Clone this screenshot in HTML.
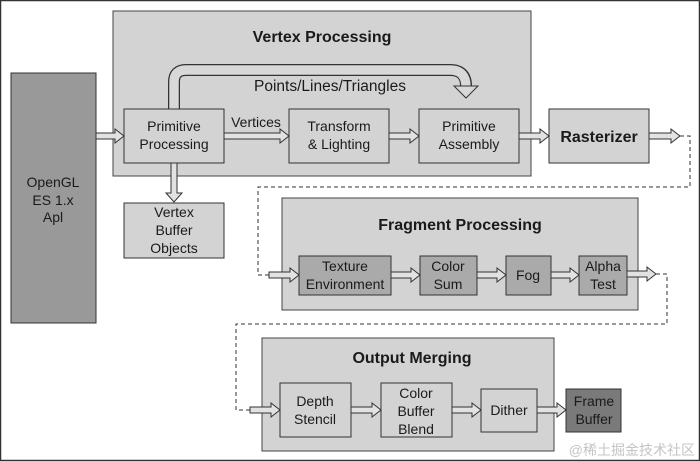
<!DOCTYPE html>
<html><head><meta charset="utf-8"><style>
html,body{margin:0;padding:0;background:#fff}
svg{display:block}
text{font-family:"Liberation Sans",sans-serif;fill:#1a1a1a}
.t{font-size:14px;text-anchor:middle}
.b{font-size:16px;font-weight:bold;text-anchor:middle}
</style></head><body>
<svg width="700" height="462" viewBox="0 0 700 462" xmlns="http://www.w3.org/2000/svg">
<rect x="0.5" y="0.5" width="699" height="460" fill="#fff" stroke="#333" stroke-width="1.5"/>
<!-- Vertex processing -->
<rect x="113" y="11" width="418" height="165" fill="#d3d3d3" stroke="#444"/>
<text class="b" x="322" y="42">Vertex Processing</text>
<!-- curved arrow -->
<path d="M174,109 V82 Q174,70 186,70 H450 Q466,70 466,86" fill="none" stroke="#333" stroke-width="12"/>
<path d="M174,110 V82 Q174,70 186,70 H450 Q466,70 466,87" fill="none" stroke="#d8d8d8" stroke-width="9.5"/>
<polygon points="454,86 478,86 466,98" fill="#d8d8d8" stroke="#333"/>
<text class="t" x="330" y="91" style="font-size:15.5px">Points/Lines/Triangles</text>
<!-- OpenGL -->
<rect x="11" y="73" width="85" height="250" fill="#999" stroke="#333"/>
<text class="t" x="53" y="187">OpenGL</text>
<text class="t" x="53" y="205">ES 1.x</text>
<text class="t" x="53" y="222">Apl</text>
<!-- boxes -->
<rect x="124" y="109" width="100" height="54" fill="#d3d3d3" stroke="#333"/>
<text class="t" x="174" y="131">Primitive</text><text class="t" x="174" y="149">Processing</text>
<rect x="289" y="109" width="100" height="54" fill="#d3d3d3" stroke="#333"/>
<text class="t" x="339" y="131">Transform</text><text class="t" x="339" y="149">&amp; Lighting</text>
<rect x="419" y="109" width="100" height="54" fill="#d3d3d3" stroke="#333"/>
<text class="t" x="469" y="131">Primitive</text><text class="t" x="469" y="149">Assembly</text>
<rect x="549" y="109" width="100" height="54" fill="#d3d3d3" stroke="#333"/>
<text class="b" x="599" y="142">Rasterizer</text>
<text class="t" x="256" y="127">Vertices</text>
<rect x="124" y="203" width="100" height="55" fill="#d3d3d3" stroke="#333"/>
<text class="t" x="174" y="217">Vertex</text><text class="t" x="174" y="235">Buffer</text><text class="t" x="174" y="253">Objects</text>
<!-- arrows -->
<g fill="#e2e2e2" stroke="#333" stroke-width="1">
<polygon points="96,133 115,133 115,129 124,136 115,143 115,139 96,139"/>
<polygon points="224,133 280,133 280,129 289,136 280,143 280,139 224,139"/>
<polygon points="389,133 410,133 410,129 419,136 410,143 410,139 389,139"/>
<polygon points="519,133 540,133 540,129 549,136 540,143 540,139 519,139"/>
<polygon points="649,133 671,133 671,129 680,136 671,143 671,139 649,139"/>
<polygon points="171,163 171,193 166,193 174,202 182,193 177,193 177,163"/>
</g>
<!-- dashed connectors -->
<g fill="none" stroke="#333" stroke-dasharray="4,3">
<path d="M680,136 H690 V187 H258 V275 H269"/>
<path d="M656,274 H667 V324 H236 V410 H250"/>
</g>
<!-- Fragment -->
<rect x="282" y="198" width="356" height="112" fill="#d3d3d3" stroke="#444"/>
<text class="b" x="460" y="230">Fragment Processing</text>
<g fill="#aaa" stroke="#333">
<rect x="299" y="256" width="92" height="39"/>
<rect x="420" y="256" width="57" height="39"/>
<rect x="506" y="256" width="45" height="39"/>
<rect x="579" y="256" width="48" height="39"/>
</g>
<text class="t" x="345" y="271">Texture</text><text class="t" x="345" y="289">Environment</text>
<text class="t" x="448" y="271">Color</text><text class="t" x="448" y="289">Sum</text>
<text class="t" x="528" y="280">Fog</text>
<text class="t" x="603" y="271">Alpha</text><text class="t" x="603" y="289">Test</text>
<g fill="#e2e2e2" stroke="#333">
<polygon points="269,272 290,272 290,268 299,275 290,282 290,278 269,278"/>
<polygon points="391,272 411,272 411,268 420,275 411,282 411,278 391,278"/>
<polygon points="477,272 497,272 497,268 506,275 497,282 497,278 477,278"/>
<polygon points="551,272 570,272 570,268 579,275 570,282 570,278 551,278"/>
<polygon points="627,271 647,271 647,267 656,274 647,281 647,277 627,277"/>
</g>
<!-- Output merging -->
<rect x="262" y="338" width="292" height="113" fill="#d3d3d3" stroke="#444"/>
<text class="b" x="412" y="363">Output Merging</text>
<g fill="#d3d3d3" stroke="#333">
<rect x="280" y="383" width="71" height="54"/>
<rect x="381" y="383" width="71" height="54"/>
<rect x="481" y="389" width="56" height="43"/>
</g>
<rect x="566" y="389" width="55" height="43" fill="#7a7a7a" stroke="#333"/>
<text class="t" x="315" y="406">Depth</text><text class="t" x="315" y="424">Stencil</text>
<text class="t" x="416" y="398">Color</text><text class="t" x="416" y="416">Buffer</text><text class="t" x="416" y="434">Blend</text>
<text class="t" x="509" y="415">Dither</text>
<text class="t" x="594" y="406">Frame</text><text class="t" x="594" y="424">Buffer</text>
<g fill="#e2e2e2" stroke="#333">
<polygon points="250,407 271,407 271,403 280,410 271,417 271,413 250,413"/>
<polygon points="351,407 372,407 372,403 381,410 372,417 372,413 351,413"/>
<polygon points="452,407 472,407 472,403 481,410 472,417 472,413 452,413"/>
<polygon points="537,407 557,407 557,403 566,410 557,417 557,413 537,413"/>
</g>
<text x="695" y="455" style="font-family:'Liberation Sans','Noto Sans CJK SC',sans-serif;font-size:14px;fill:#c4c4c4;text-anchor:end">@稀土掘金技术社区</text>
</svg>
</body></html>
